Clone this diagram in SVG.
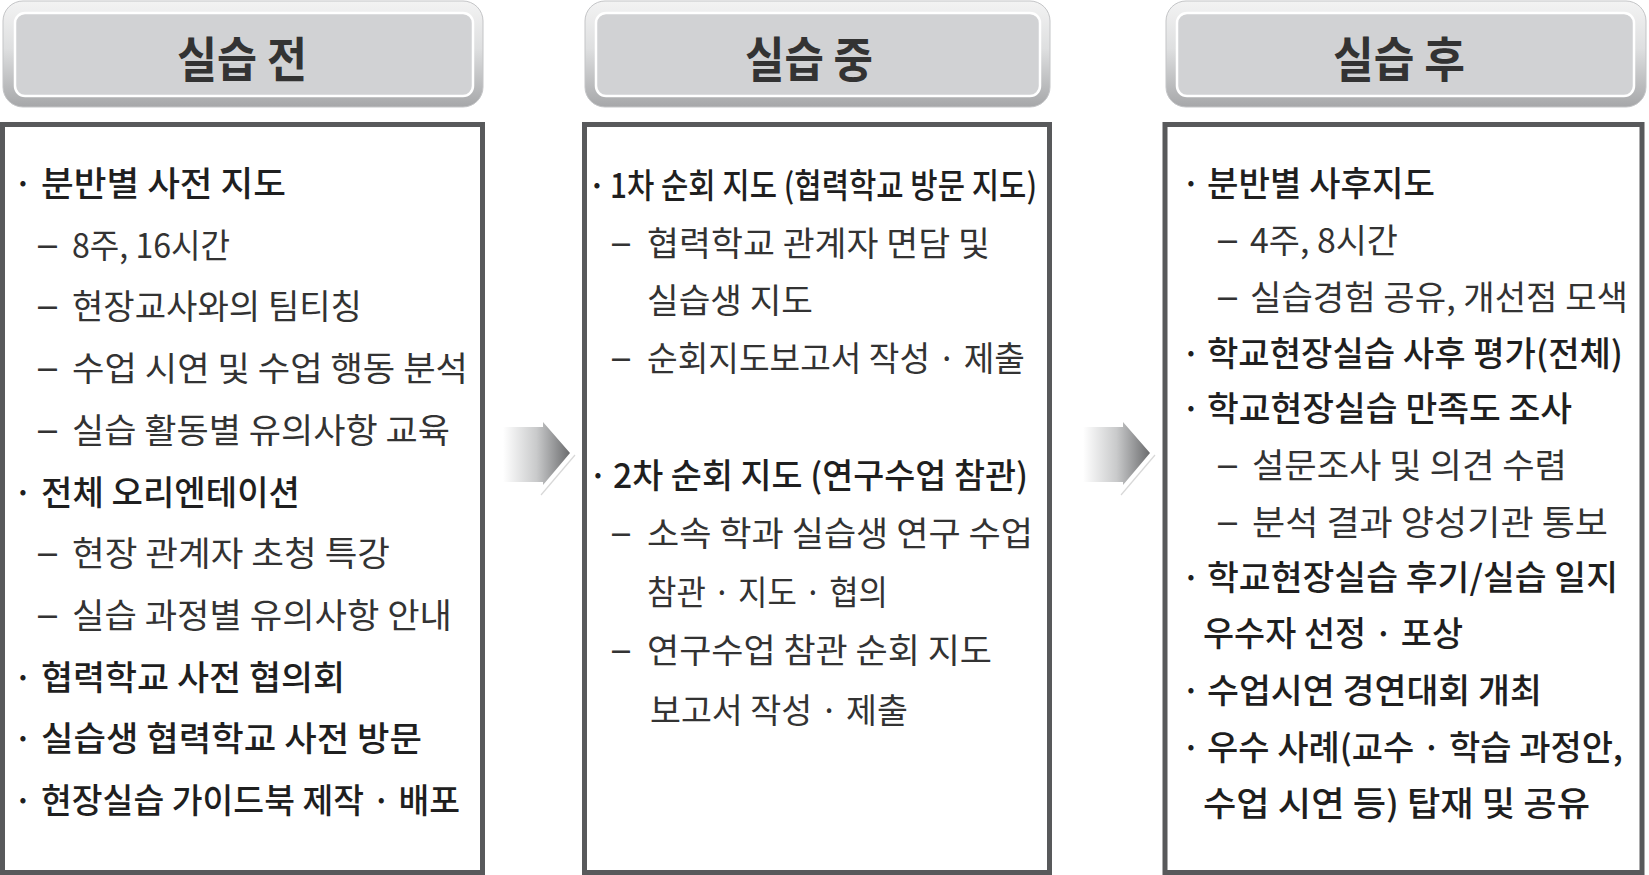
<svg xmlns="http://www.w3.org/2000/svg" width="1649" height="875" viewBox="0 0 1649 875">
<defs>
<linearGradient id="hdrOuter" x1="0" y1="0" x2="0" y2="1">
<stop offset="0" stop-color="#f3f3f3"/>
<stop offset="0.45" stop-color="#dedfe0"/>
<stop offset="1" stop-color="#a6a7a9"/>
</linearGradient>
<linearGradient id="arrowGrad" x1="0" y1="0" x2="1" y2="0">
<stop offset="0" stop-color="#ffffff"/>
<stop offset="0.5" stop-color="#c9cacb"/>
<stop offset="1" stop-color="#6a6b6d"/>
</linearGradient>
<style>
.hout{fill:url(#hdrOuter);stroke:#c4c5c7;stroke-width:1}
.hin{fill:#d1d2d4;stroke:#ffffff;stroke-width:2.5}
.htxt{font-family:"Noto Sans CJK KR","Noto Sans",sans-serif;font-size:48px;font-weight:700;fill:#333333}
.box{fill:#ffffff;stroke:#58595b;stroke-width:5}
.t{font-family:"Noto Sans CJK KR","Noto Sans",sans-serif;font-size:34px;fill:#333333}
.b{font-family:"Noto Sans CJK KR Medium","Noto Sans CJK KR","Noto Sans",sans-serif;font-weight:500;fill:#1f1f1f}
.bul{text-anchor:middle}
.d{font-family:"Liberation Sans",sans-serif;font-size:38px}
.arrow{fill:url(#arrowGrad)}
.glint{stroke:#d8d8d8;stroke-width:1.2;fill:none}
</style>
</defs>
<rect width="1649" height="875" fill="#ffffff"/>

<g id="header-before">
<rect class="hout" x="3" y="1" width="480" height="106" rx="20"/>
<rect class="hin" x="15" y="13" width="458" height="83" rx="10"/>
<text class="htxt" x="177" y="77" textLength="130" lengthAdjust="spacingAndGlyphs">실습 전</text>
</g>
<g id="header-during">
<rect class="hout" x="585" y="1" width="465" height="106" rx="20"/>
<rect class="hin" x="596" y="13" width="444" height="83" rx="10"/>
<text class="htxt" x="745" y="77" textLength="128" lengthAdjust="spacingAndGlyphs">실습 중</text>
</g>
<g id="header-after">
<rect class="hout" x="1166" y="1" width="480" height="106" rx="20"/>
<rect class="hin" x="1177" y="13" width="457" height="83" rx="10"/>
<text class="htxt" x="1333" y="77" textLength="132" lengthAdjust="spacingAndGlyphs">실습 후</text>
</g>

<g id="box-before">
<rect class="box" x="2.5" y="124.5" width="480" height="748"/>
<text class="t b bul" x="23" y="196">·</text>
<text class="t b" x="41" y="196" textLength="245" lengthAdjust="spacingAndGlyphs">분반별 사전 지도</text>
<text class="t d" x="38" y="257" textLength="19" lengthAdjust="spacingAndGlyphs">–</text>
<text class="t" x="72" y="258" textLength="158" lengthAdjust="spacingAndGlyphs">8주, 16시간</text>
<text class="t d" x="38" y="318" textLength="19" lengthAdjust="spacingAndGlyphs">–</text>
<text class="t" x="72" y="319" textLength="290" lengthAdjust="spacingAndGlyphs">현장교사와의 팀티칭</text>
<text class="t d" x="38" y="380" textLength="19" lengthAdjust="spacingAndGlyphs">–</text>
<text class="t" x="72" y="381" textLength="396" lengthAdjust="spacingAndGlyphs">수업 시연 및 수업 행동 분석</text>
<text class="t d" x="38" y="442" textLength="19" lengthAdjust="spacingAndGlyphs">–</text>
<text class="t" x="72" y="443" textLength="378" lengthAdjust="spacingAndGlyphs">실습 활동별 유의사항 교육</text>
<text class="t b bul" x="23" y="505">·</text>
<text class="t b" x="41" y="505" textLength="259" lengthAdjust="spacingAndGlyphs">전체 오리엔테이션</text>
<text class="t d" x="38" y="565" textLength="19" lengthAdjust="spacingAndGlyphs">–</text>
<text class="t" x="72" y="566" textLength="318" lengthAdjust="spacingAndGlyphs">현장 관계자 초청 특강</text>
<text class="t d" x="38" y="627" textLength="19" lengthAdjust="spacingAndGlyphs">–</text>
<text class="t" x="72" y="628" textLength="380" lengthAdjust="spacingAndGlyphs">실습 과정별 유의사항 안내</text>
<text class="t b bul" x="23" y="690">·</text>
<text class="t b" x="41" y="690" textLength="304" lengthAdjust="spacingAndGlyphs">협력학교 사전 협의회</text>
<text class="t b bul" x="23" y="751">·</text>
<text class="t b" x="41" y="751" textLength="381" lengthAdjust="spacingAndGlyphs">실습생 협력학교 사전 방문</text>
<text class="t b bul" x="23" y="813">·</text>
<text class="t b" x="41" y="813" textLength="419" lengthAdjust="spacingAndGlyphs">현장실습 가이드북 제작 · 배포</text>
</g>

<g id="box-during">
<rect class="box" x="584.5" y="124.5" width="465" height="748"/>
<text class="t b bul" x="597" y="198">·</text>
<text class="t b" x="610" y="198" textLength="427" lengthAdjust="spacingAndGlyphs">1차 순회 지도 (협력학교 방문 지도)</text>
<text class="t d" x="612" y="255" textLength="18" lengthAdjust="spacingAndGlyphs">–</text>
<text class="t" x="647" y="256" textLength="343" lengthAdjust="spacingAndGlyphs">협력학교 관계자 면담 및</text>
<text class="t" x="647" y="313" textLength="166" lengthAdjust="spacingAndGlyphs">실습생 지도</text>
<text class="t d" x="612" y="370" textLength="18" lengthAdjust="spacingAndGlyphs">–</text>
<text class="t" x="647" y="371" textLength="378" lengthAdjust="spacingAndGlyphs">순회지도보고서 작성 · 제출</text>
<text class="t b bul" x="598" y="488">·</text>
<text class="t b" x="613" y="488" textLength="415" lengthAdjust="spacingAndGlyphs">2차 순회 지도 (연구수업 참관)</text>
<text class="t d" x="612" y="545" textLength="18" lengthAdjust="spacingAndGlyphs">–</text>
<text class="t" x="647" y="546" textLength="386" lengthAdjust="spacingAndGlyphs">소속 학과 실습생 연구 수업</text>
<text class="t" x="647" y="605" textLength="241" lengthAdjust="spacingAndGlyphs">참관 · 지도 · 협의</text>
<text class="t d" x="612" y="662" textLength="18" lengthAdjust="spacingAndGlyphs">–</text>
<text class="t" x="647" y="663" textLength="345" lengthAdjust="spacingAndGlyphs">연구수업 참관 순회 지도</text>
<text class="t" x="650" y="723" textLength="258" lengthAdjust="spacingAndGlyphs">보고서 작성 · 제출</text>
</g>

<g id="box-after">
<rect class="box" x="1165" y="124.5" width="477" height="748"/>
<text class="t b bul" x="1191" y="196">·</text>
<text class="t b" x="1207" y="196" textLength="228" lengthAdjust="spacingAndGlyphs">분반별 사후지도</text>
<text class="t d" x="1218" y="252" textLength="19" lengthAdjust="spacingAndGlyphs">–</text>
<text class="t" x="1250" y="253" textLength="148" lengthAdjust="spacingAndGlyphs">4주, 8시간</text>
<text class="t d" x="1218" y="309" textLength="19" lengthAdjust="spacingAndGlyphs">–</text>
<text class="t" x="1250" y="310" textLength="378" lengthAdjust="spacingAndGlyphs">실습경험 공유, 개선점 모색</text>
<text class="t b bul" x="1191" y="366">·</text>
<text class="t b" x="1207" y="366" textLength="416" lengthAdjust="spacingAndGlyphs">학교현장실습 사후 평가(전체)</text>
<text class="t b bul" x="1191" y="421">·</text>
<text class="t b" x="1207" y="421" textLength="365" lengthAdjust="spacingAndGlyphs">학교현장실습 만족도 조사</text>
<text class="t d" x="1218" y="477" textLength="19" lengthAdjust="spacingAndGlyphs">–</text>
<text class="t" x="1252" y="478" textLength="315" lengthAdjust="spacingAndGlyphs">설문조사 및 의견 수렴</text>
<text class="t d" x="1218" y="534" textLength="19" lengthAdjust="spacingAndGlyphs">–</text>
<text class="t" x="1252" y="535" textLength="356" lengthAdjust="spacingAndGlyphs">분석 결과 양성기관 통보</text>
<text class="t b bul" x="1191" y="590">·</text>
<text class="t b" x="1207" y="590" textLength="411" lengthAdjust="spacingAndGlyphs">학교현장실습 후기/실습 일지</text>
<text class="t b" x="1203" y="646" textLength="260" lengthAdjust="spacingAndGlyphs">우수자 선정 · 포상</text>
<text class="t b bul" x="1191" y="703">·</text>
<text class="t b" x="1207" y="703" textLength="335" lengthAdjust="spacingAndGlyphs">수업시연 경연대회 개최</text>
<text class="t b bul" x="1191" y="760">·</text>
<text class="t b" x="1207" y="760" textLength="416" lengthAdjust="spacingAndGlyphs">우수 사례(교수 · 학습 과정안,</text>
<text class="t b" x="1203" y="816" textLength="387" lengthAdjust="spacingAndGlyphs">수업 시연 등) 탑재 및 공유</text>
</g>

<g id="connectors">
<g id="arrow-1">
<polygon class="arrow" points="503,427 543,427 543,422 570,453 543,485 543,482 503,482"/>
<line class="glint" x1="575" y1="455" x2="541" y2="495"/>
</g>
<g id="arrow-2">
<polygon class="arrow" points="1083,427 1123,427 1123,422 1150,453 1123,485 1123,482 1083,482"/>
<line class="glint" x1="1155" y1="455" x2="1121" y2="495"/>
</g>
</g>
</svg>
